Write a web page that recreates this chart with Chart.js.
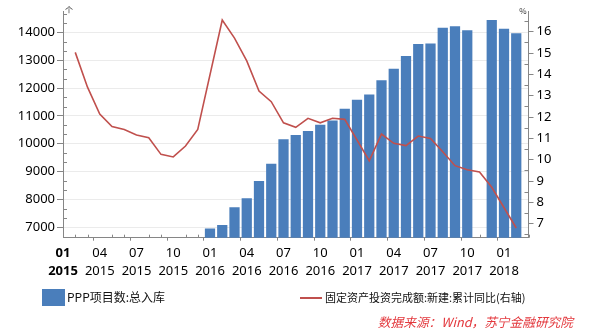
<!DOCTYPE html>
<html>
<head>
<meta charset="utf-8">
<script src="https://cdn.jsdelivr.net/npm/chart.js@4.4.1/dist/chart.umd.min.js"></script>
<style>
  body { margin: 0; background: #fff; }
  #wrap { position: relative; width: 603px; height: 335px; overflow: hidden; }
  #c { position: absolute; left: 0; top: 0; }
  .lg { position: absolute; font-family: "Noto Sans CJK SC", sans-serif; font-size: 11px; color: #111; line-height: 18px; white-space: nowrap; }
  .sw-bar { position: absolute; left: 42px; top: 289px; width: 23px; height: 17px; background: #4a7ebb; }
  .sw-line { position: absolute; left: 300px; top: 297px; width: 22px; height: 1.5px; background: #c0504d; }
  .src { position: absolute; right: 30px; top: 312px; font-family: "Noto Sans CJK SC", sans-serif; font-size: 12.7px; font-style: italic; color: #e3383d; white-space: nowrap; }
</style>
</head>
<body>
<div id="wrap">
  <canvas id="c" width="603" height="335"></canvas>
  <div class="sw-bar"></div>
  <div class="lg" style="left:67px; top:288px; font-size:12px;">PPP项目数:总入库</div>
  <div class="sw-line"></div>
  <div class="lg" style="left:325px; top:288px;">固定资产投资完成额:新建:累计同比(右轴)</div>
  <div class="src">数据来源：Wind，苏宁金融研究院</div>
</div>
<script>
// monthly categories, Jan 2015 .. Mar 2018
const months = [
  '2015-01','2015-02','2015-03','2015-04','2015-05','2015-06','2015-07','2015-08','2015-09','2015-10','2015-11','2015-12',
  '2016-01','2016-02','2016-03','2016-04','2016-05','2016-06','2016-07','2016-08','2016-09','2016-10','2016-11','2016-12',
  '2017-01','2017-02','2017-03','2017-04','2017-05','2017-06','2017-07','2017-08','2017-09','2017-10','2017-11','2017-12',
  '2018-01','2018-02','2018-03'
];

// PPP项目数:总入库 (个)
const pppCount = [
  null, null, null, null, null, null, null, null, null, null, null, null,
  6960, 7080, 7720, 8040, 8660, 9280, 10160, 10310, 10460, 10680, 10830, 11260,
  11580, 11770, 12280, 12690, 13150, 13580, 13600, 14160, 14220, 14070, null, 14440,
  14130, 13970, null
];

// 固定资产投资完成额:新建:累计同比 (%)
const faiYoY = [
  null, 15.03, 13.40, 12.14, 11.55, 11.42, 11.16, 11.03, 10.25, 10.13, 10.64, 11.42,
  null, 16.55, 15.70, 14.63, 13.22, 12.72, 11.73, 11.52, 11.94, 11.73, 11.94, 11.89,
  null, 9.95, 11.20, 10.77, 10.66, 11.11, 11.00, 10.37, 9.72, 9.53, 9.42, 8.71,
  null, 6.80, null
];

const leftTicks = [7000, 8000, 9000, 10000, 11000, 12000, 13000, 14000];
const rightTicks = [7, 8, 9, 10, 11, 12, 13, 14, 15, 16];

const axisGray = '#868686';
const tickFont = '"Noto Sans", "DejaVu Sans", sans-serif';

function isQuarter(i) {
  return i % 3 === 0;
}

const minorTicks = {
  id: 'minorTicks',
  beforeDatasetsDraw(chart) {
    const { ctx, chartArea: a, scales } = chart;
    ctx.save();
    ctx.strokeStyle = axisGray;
    ctx.lineWidth = 1;
    ctx.beginPath();
    // left axis, thirds between labels
    for (let k = -1; k <= 23; k++) {
      if (k % 3 === 0) continue;
      const v = 7000 + k * 1000 / 3;
      if (v < scales.y.min || v > scales.y.max) continue;
      const py = Math.round(scales.y.getPixelForValue(v)) + 0.5;
      ctx.moveTo(a.left, py); ctx.lineTo(a.left + 4, py);
    }
    // right axis, halves
    for (let v = 6.5; v <= scales.y2.max; v += 1) {
      const py = Math.round(scales.y2.getPixelForValue(v)) + 0.5;
      ctx.moveTo(a.right - 4, py); ctx.lineTo(a.right, py);
    }
    // x axis, each month
    months.forEach((m, i) => {
      if (isQuarter(i)) return;
      const px = Math.round(scales.x.getPixelForValue(i)) + 0.5;
      ctx.moveTo(px, a.bottom); ctx.lineTo(px, a.bottom - 3);
    });
    ctx.stroke();
    ctx.restore();
  },
  afterDraw(chart) {
    const { ctx, chartArea: a } = chart;
    ctx.save();
    ctx.fillStyle = '#333';
    ctx.font = '8px "Noto Sans CJK SC", sans-serif';
    ctx.textBaseline = 'middle';
    ctx.textAlign = 'left';
    ctx.fillText('个', a.left + 2, 10);
    ctx.textAlign = 'right';
    ctx.fillText('%', a.right - 2, 11);
    ctx.restore();
  }
};

new Chart(document.getElementById('c'), {
  data: {
    labels: months,
    datasets: [
      {
        type: 'line',
        label: '固定资产投资完成额:新建:累计同比(右轴)',
        data: faiYoY,
        yAxisID: 'y2',
        borderColor: '#c0504d',
        borderWidth: 1.6,
        pointRadius: 0,
        tension: 0,
        spanGaps: true,
        order: 0
      },
      {
        type: 'bar',
        label: 'PPP项目数:总入库',
        data: pppCount,
        yAxisID: 'y',
        backgroundColor: '#4a7ebb',
        barPercentage: 0.93,
        categoryPercentage: 0.9,
        order: 1
      }
    ]
  },
  options: {
    responsive: false,
    animation: false,
    events: [],
    layout: { padding: { top: 11, left: 0, right: 0, bottom: 0 } },
    plugins: { legend: { display: false }, tooltip: { enabled: false } },
    scales: {
      x: {
        type: 'category',
        offset: false,
        grid: {
          drawOnChartArea: false,
          tickLength: 3,
          tickColor: (c) => isQuarter(c.index) ? axisGray : 'rgba(0,0,0,0)'
        },
        border: { color: axisGray },
        ticks: {
          autoSkip: false,
          maxRotation: 0,
          minRotation: 0,
          padding: 4,
          color: '#000',
          font: (c) => ({ family: tickFont, size: 13, lineHeight: 1.35, weight: c.index === 0 ? 'bold' : 'normal' }),
          callback: (v, i) => {
            if (!isQuarter(i)) return '';
            const [yy, mm] = months[i].split('-');
            return [mm, yy];
          }
        },
        afterFit: (s) => { s.height = 335 - 237.7; }
      },
      y: {
        position: 'left',
        min: 6627,
        max: 14765,
        afterBuildTicks: (s) => { s.ticks = leftTicks.map(v => ({ value: v })); },
        grid: { color: '#ebebeb', tickColor: axisGray, tickLength: 6 },
        border: { color: axisGray },
        ticks: { padding: 2, color: '#000', font: { family: tickFont, size: 13 }, callback: (v) => String(v) },
        afterFit: (s) => { s.width = 63; }
      },
      y2: {
        position: 'right',
        min: 6.344,
        max: 16.97,
        afterBuildTicks: (s) => { s.ticks = rightTicks.map(v => ({ value: v })); },
        grid: { drawOnChartArea: false, tickColor: axisGray, tickLength: 5 },
        border: { color: axisGray },
        ticks: { padding: 3, color: '#000', font: { family: tickFont, size: 13 }, callback: (v) => String(v) },
        afterFit: (s) => { s.width = 603 - 528.5; }
      }
    }
  },
  plugins: [minorTicks]
});
</script>
</body>
</html>
